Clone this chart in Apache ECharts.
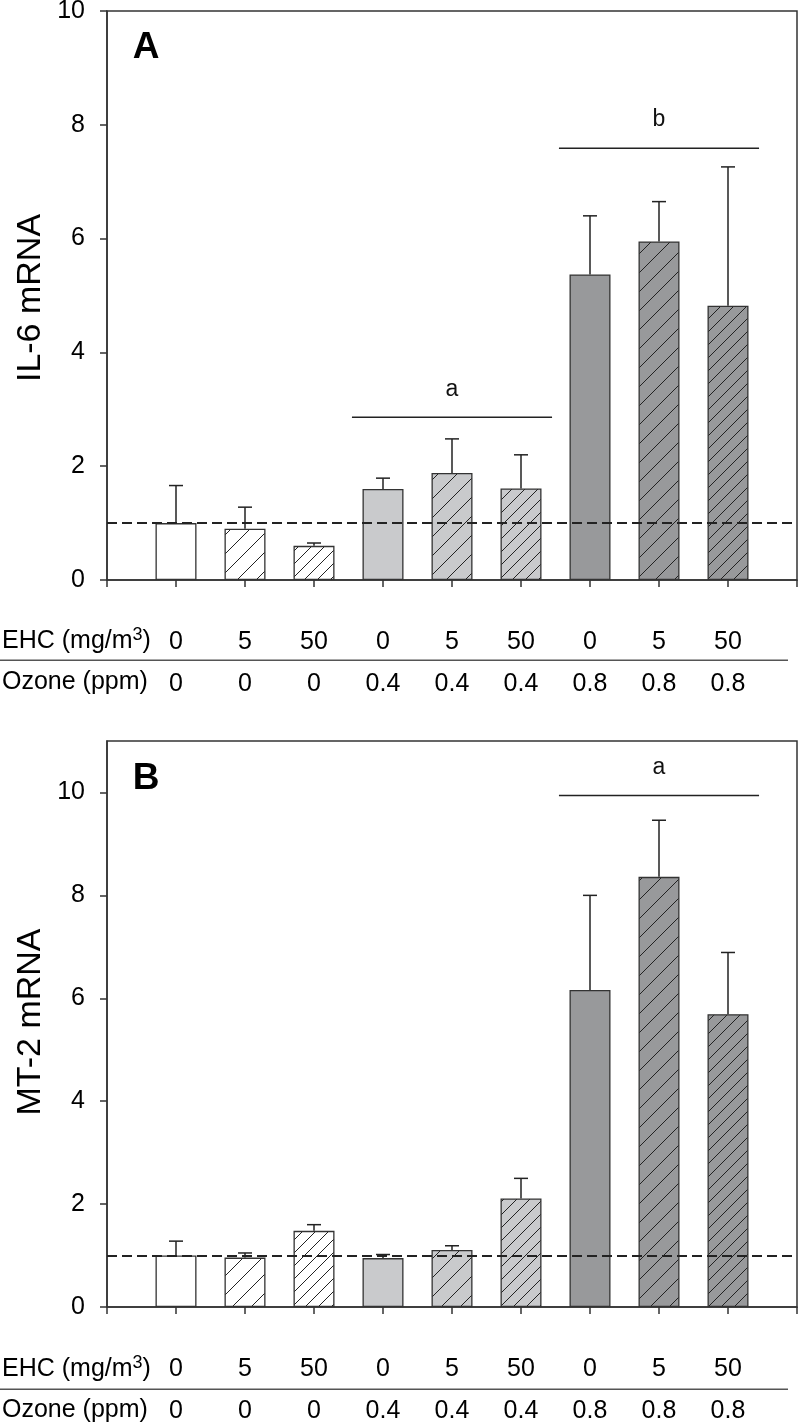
<!DOCTYPE html>
<html><head><meta charset="utf-8">
<script src="https://cdn.jsdelivr.net/npm/echarts@6/dist/echarts.min.js"></script>
<style>html,body{margin:0;padding:0;background:#fff}#c{width:800px;height:1425px}</style>
</head><body><div id="c"></div>
<script>
// ---- data ----
const ehcLabels = ['0', '5', '50', '0', '5', '50', '0', '5', '50'];
const ozoneLabels = ['0', '0', '0', '0.4', '0.4', '0.4', '0.8', '0.8', '0.8'];
const il6Mean  = [1.00, 0.90, 0.60, 1.60, 1.88, 1.61, 5.37, 5.95, 4.82];
const il6Upper = [1.66, 1.28, 0.65, 1.79, 2.48, 2.20, 6.40, 6.65, 7.26];
const mt2Mean  = [1.00, 0.96, 1.48, 0.95, 1.11, 2.11, 6.16, 8.36, 5.69];
const mt2Upper = [1.28, 1.05, 1.60, 1.02, 1.19, 2.50, 8.00, 9.46, 6.89];
// significance brackets: [first group index, last group index, y value, letter]
const il6Sig = [[3, 5, 2.86, 'a'], [6, 8, 7.59, 'b']];
const mt2Sig = [[6, 8, 9.94, 'a']];
const refLevel = 1;
const yTicksA = [0, 2, 4, 6, 8, 10];
const yTicksB = [0, 2, 4, 6, 8, 10];

// ---- styles ----
const FONT = 'Liberation Sans, Arial, Helvetica, sans-serif';
const fillColors = ['#ffffff','#ffffff','#ffffff','#c9cacc','#c9cacc','#c9cacc','#98999b','#98999b','#98999b'];
const hatchGap = [0, 19, 13, 0, 19, 13, 0, 19, 13];

function hatch(bg, s) {
  if (!s) return bg;
  const c = document.createElement('canvas');
  c.width = s; c.height = s;
  const g = c.getContext('2d');
  g.fillStyle = bg; g.fillRect(0, 0, s, s);
  g.strokeStyle = '#222'; g.lineWidth = 1;
  g.beginPath();
  g.moveTo(0, s); g.lineTo(s, 0);
  g.moveTo(-2, 2); g.lineTo(2, -2);
  g.moveTo(s - 2, s + 2); g.lineTo(s + 2, s - 2);
  g.stroke();
  return { image: c, repeat: 'repeat' };
}

const n = ehcLabels.length;
const cats = ['pad0'].concat(ehcLabels.map((_, i) => 'g' + i)).concat(['padEnd']);

function barData(means) {
  return ['-'].concat(means.map((v, i) => ({
    value: v,
    itemStyle: { color: hatch(fillColors[i], hatchGap[i]) }
  }))).concat(['-']);
}
function errData(means, upper) {
  return means.map((m, i) => [i + 1, m, upper[i]]);
}
function sigData(sig) {
  return sig.map(s => [s[0] + 1, s[1] + 1, s[2], s[3]]);
}

function errRender(params, api) {
  const p0 = api.coord([api.value(0), api.value(1)]);
  const p1 = api.coord([api.value(0), api.value(2)]);
  const st = { stroke: '#222', lineWidth: 1.5 };
  return { type: 'group', children: [
    { type: 'line', shape: { x1: p0[0], y1: p0[1], x2: p1[0], y2: p1[1] }, style: st },
    { type: 'line', shape: { x1: p1[0] - 7, y1: p1[1], x2: p1[0] + 7, y2: p1[1] }, style: st }
  ]};
}
function sigRender(params, api) {
  const band = api.size([1, 0])[0];
  const a = api.coord([api.value(0), api.value(2)]);
  const b = api.coord([api.value(1), api.value(2)]);
  const x1 = a[0] - band * 0.45, x2 = b[0] + band * 0.45;
  return { type: 'group', children: [
    { type: 'line', shape: { x1: x1, y1: a[1], x2: x2, y2: a[1] }, style: { stroke: '#222', lineWidth: 1.5 } },
    { type: 'text', x: (x1 + x2) / 2, y: a[1] - 28,
      style: { text: String(api.value(3)), fontSize: 23, fontFamily: FONT, fill: '#111', align: 'center', verticalAlign: 'middle' } }
  ]};
}

function xAxisFor(gi) {
  return {
    type: 'category', gridIndex: gi, data: cats, boundaryGap: false,
    axisLine: { lineStyle: { color: '#333', width: 1.5 } },
    axisTick: { length: 7, interval: 0, lineStyle: { color: '#333', width: 1.5 } },
    axisLabel: {
      interval: 0, margin: 41, fontSize: 25, lineHeight: 42, fontFamily: FONT, color: '#000',
      formatter: (v, idx) => (idx >= 1 && idx <= n) ? ehcLabels[idx - 1] + '\n' + ozoneLabels[idx - 1] : ''
    },
    splitLine: { show: false }
  };
}
function yAxisFor(gi, max, ticks) {
  return {
    type: 'value', gridIndex: gi, min: 0, max: max, interval: 2,
    axisLine: { show: true, lineStyle: { color: '#333', width: 1.5 } },
    axisTick: { show: true, length: 7, customValues: ticks, lineStyle: { color: '#333', width: 1.5 } },
    axisLabel: { fontSize: 25, fontFamily: FONT, color: '#000', margin: 22, customValues: ticks },
    splitLine: { show: false }
  };
}
function seriesFor(gi, means, upper, sig) {
  return [
    { type: 'bar', xAxisIndex: gi, yAxisIndex: gi, data: barData(means), barWidth: 41,
      itemStyle: { borderColor: '#333', borderWidth: 1.3 }, silent: true, animation: false,
      markLine: { silent: true, symbol: 'none', label: { show: false }, animation: false,
        lineStyle: { type: [10, 5], color: '#222', width: 2 }, data: [{ yAxis: refLevel }] } },
    { type: 'custom', xAxisIndex: gi, yAxisIndex: gi, data: errData(means, upper), renderItem: errRender, silent: true, animation: false, z: 3 },
    { type: 'custom', xAxisIndex: gi, yAxisIndex: gi, data: sigData(sig), renderItem: sigRender, silent: true, animation: false, z: 4 }
  ];
}

function rowHeaders(yEhc, yOz, yLine) {
  return [
    { type: 'text', left: 2, top: yEhc - 16, style: {
        text: '{a|EHC (mg/m}{s|3}{a|)}', fill: '#000',
        rich: { a: { fontSize: 25, fontFamily: FONT, lineHeight: 32, fill: '#000' },
                s: { fontSize: 18, fontFamily: FONT, lineHeight: 18, padding: [0, 0, 12, 0], fill: '#000' } } } },
    { type: 'text', left: 2, top: yOz - 14, style: { text: 'Ozone (ppm)', fontSize: 25, fontFamily: FONT, fill: '#000' } },
    { type: 'line', shape: { x1: 0, y1: yLine, x2: 788, y2: yLine }, style: { stroke: '#555', lineWidth: 1.5 } }
  ];
}

const chart = echarts.init(document.getElementById('c'), null, { renderer: 'canvas' });
chart.setOption({
  animation: false,
  backgroundColor: '#fff',
  grid: [
    { left: 107, top: 11, width: 690, height: 569, show: true, borderColor: '#333', borderWidth: 1.5, backgroundColor: 'transparent', containLabel: false, outerBoundsMode: 'none' },
    { left: 107, top: 741, width: 690, height: 566, show: true, borderColor: '#333', borderWidth: 1.5, backgroundColor: 'transparent', containLabel: false, outerBoundsMode: 'none' }
  ],
  xAxis: [xAxisFor(0), xAxisFor(1)],
  yAxis: [yAxisFor(0, 10, yTicksA), yAxisFor(1, 11, yTicksB)],
  series: seriesFor(0, il6Mean, il6Upper, il6Sig).concat(seriesFor(1, mt2Mean, mt2Upper, mt2Sig)),
  graphic: [
    { type: 'text', x: 31, y: 298, rotation: Math.PI / 2, style: { text: 'IL-6 mRNA', fontSize: 34, fontFamily: FONT, fill: '#000', align: 'center', verticalAlign: 'middle' } },
    { type: 'text', x: 31, y: 1022, rotation: Math.PI / 2, style: { text: 'MT-2 mRNA', fontSize: 34, fontFamily: FONT, fill: '#000', align: 'center', verticalAlign: 'middle' } },
    { type: 'text', x: 146, y: 48, style: { text: 'A', fontSize: 37, fontWeight: 'bold', fontFamily: FONT, fill: '#000', align: 'center', verticalAlign: 'middle' } },
    { type: 'text', x: 146, y: 779, style: { text: 'B', fontSize: 37, fontWeight: 'bold', fontFamily: FONT, fill: '#000', align: 'center', verticalAlign: 'middle' } }
  ].concat(rowHeaders(641.7, 683.3, 660.3)).concat(rowHeaders(1370, 1411.7, 1389.3))
});
</script>
</body></html>
